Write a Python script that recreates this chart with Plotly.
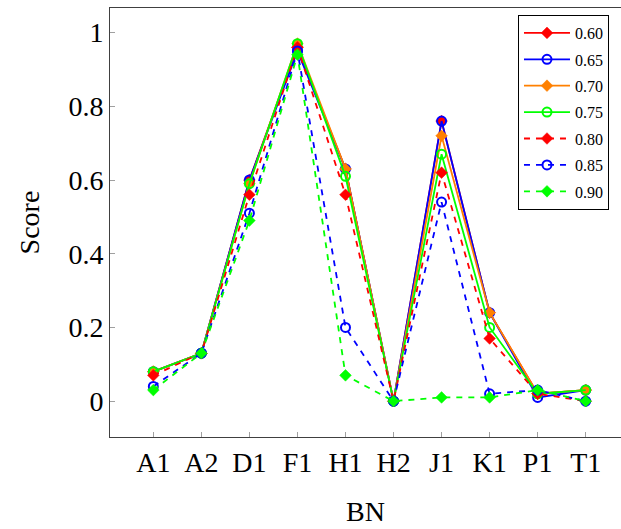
import plotly.graph_objects as go

categories = ["A1", "A2", "D1", "F1", "H1", "H2", "J1", "K1", "P1", "T1"]
series_names = ["0.60", "0.65", "0.70", "0.75", "0.80", "0.85", "0.90"]
s060 = [0.08, 0.13, 0.60, 0.96, 0.63, 0.00, 0.76, 0.24, 0.02, 0.03]
s065 = [0.08, 0.13, 0.60, 0.95, 0.63, 0.00, 0.76, 0.24, 0.01, 0.03]
s070 = [0.08, 0.13, 0.59, 0.97, 0.63, 0.00, 0.72, 0.24, 0.02, 0.03]
s075 = [0.08, 0.13, 0.59, 0.97, 0.61, 0.00, 0.67, 0.20, 0.02, 0.03]
s080 = [0.07, 0.13, 0.56, 0.96, 0.56, 0.00, 0.62, 0.17, 0.02, 0.00]
s085 = [0.04, 0.13, 0.51, 0.95, 0.20, 0.00, 0.54, 0.02, 0.03, 0.00]
s090 = [0.03, 0.13, 0.49, 0.94, 0.07, 0.00, 0.01, 0.01, 0.03, 0.00]
values = [s060, s065, s070, s075, s080, s085, s090]
colors = ["#ff0000", "#0000ff", "#ff8000", "#00ff00", "#ff0000", "#0000ff", "#00ff00"]
symbols = ["diamond", "circle-open", "diamond", "circle-open", "diamond", "circle-open", "diamond"]
dashes = ["solid", "solid", "solid", "solid", "6px,6px", "6px,6px", "6px,6px"]
ytick_vals = [0, 0.2, 0.4, 0.6, 0.8, 1.0]
ytick_text = ["0", "0.2", "0.4", "0.6", "0.8", "1"]

x_idx = list(range(len(categories)))
fig = go.Figure()
for name, vals, c, sym, d in zip(series_names, values, colors, symbols, dashes):
    fig.add_trace(go.Scatter(
        x=x_idx, y=vals, name=name, mode="lines+markers", legendgroup=name,
        line=dict(color=c, width=1.8, dash=d),
        marker=dict(symbol=sym, size=9 if "circle" in sym else 9, color=c,
                    line=dict(color=c, width=2 if "circle" in sym else 0.5)),
    ))

font_family = "Liberation Serif"
fig.update_layout(
    width=621, height=529,
    margin=dict(l=110, r=0, t=8, b=92),
    plot_bgcolor="white", paper_bgcolor="white",
    font=dict(family=font_family, size=28, color="black"),
    showlegend=True,
    legend=dict(
        x=0.9765, y=0.9837, xanchor="right", yanchor="top",
        bordercolor="black", borderwidth=1, bgcolor="white",
        font=dict(family=font_family, size=16), itemwidth=46,
        tracegroupgap=2.6,
    ),
)
fig.update_xaxes(
    range=[-0.902, 9.735], tickmode="array", tickvals=x_idx, ticktext=categories,
    ticks="inside", ticklen=5, tickcolor="#a0a0a0", showgrid=False, zeroline=False,
    showline=True, linecolor="#404040", linewidth=1, mirror=True,
    title=dict(text="BN", standoff=24, font=dict(size=28)),
    tickfont=dict(size=28),
)
fig.update_yaxes(
    range=[-0.0973, 1.0667], tickmode="array", tickvals=ytick_vals, ticktext=ytick_text,
    ticks="inside", ticklen=5, tickcolor="#a0a0a0", showgrid=False, zeroline=False,
    showline=True, linecolor="#404040", linewidth=1, mirror=True,
    title=dict(text="Score", standoff=20, font=dict(size=28)),
    tickfont=dict(size=28),
)
fig.write_html("out.html")
